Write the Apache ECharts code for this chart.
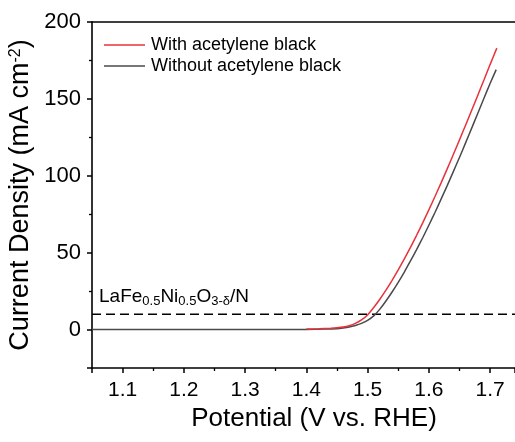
<!DOCTYPE html>
<html><head><meta charset="utf-8">
<script src="https://cdn.jsdelivr.net/npm/echarts@6/dist/echarts.min.js"></script>
<style>html,body{margin:0;padding:0;background:#fff}#c{width:515px;height:442px}</style>
</head><body><div id="c"></div>
<script>
const seriesNames = ['With acetylene black', 'Without acetylene black'];
const potRed = [1.40,1.42,1.44,1.45,1.46,1.47,1.48,1.49,1.50,1.51,1.52,1.53,1.54,1.55,1.56,1.57,1.58,1.59,1.60,1.61,1.62,1.63,1.64,1.65,1.66,1.67,1.68,1.69,1.70,1.711];
const jRed = [0.3,0.5,0.8,1.1,1.6,2.5,4.0,6.3,9.5,14.3,19.7,25.6,32.0,38.8,46.0,53.5,61.3,69.4,77.8,86.5,95.4,104.5,113.8,123.3,132.9,142.6,152.4,162.3,172.3,183.0];
const potGray = [1.05,1.10,1.15,1.20,1.25,1.30,1.35,1.40,1.43,1.45,1.46,1.47,1.48,1.49,1.50,1.51,1.52,1.53,1.54,1.55,1.56,1.57,1.58,1.59,1.60,1.61,1.62,1.63,1.64,1.65,1.66,1.67,1.68,1.69,1.70,1.71];
const jGray = [0,0,0,0,0,0,0,0.1,0.3,0.6,1.0,1.6,2.6,4.0,6.0,8.9,13.3,18.6,24.4,30.7,37.4,44.6,52.0,59.7,67.8,76.1,84.8,93.6,102.7,111.9,121.4,131.0,140.7,150.4,160.0,169.0];
const threshold = 10;
const xRange = [1.05, 1.7407];
const yRange = [-25, 200];
const xStep = 0.1, yStep = 50;
const xTitle = 'Potential (V vs. RHE)';
const yTitle = 'Current Density (mA cm{sup|-2})';
const annot = 'LaFe{sub|0.5}Ni{sub|0.5}O{sub|3-δ}/N';

const FONT = '"Liberation Sans", Arial, sans-serif';
const zip = (a, b) => a.map((v, i) => [v, b[i]]);

const chart = echarts.init(document.getElementById('c'), null, {renderer: 'canvas'});
chart.setOption({
  animation: false,
  backgroundColor: '#fff',
  grid: {left: 92, right: 0, top: 22, bottom: 74},
  legend: {
    orient: 'vertical', left: 99, top: 31, itemGap: 3,
    itemWidth: 41, itemHeight: 1.6, icon: 'rect',
    textStyle: {fontFamily: FONT, fontSize: 18, color: '#000', padding: [0,0,0,1]},
    data: seriesNames
  },
  xAxis: [{
    type: 'value', min: xRange[0], max: xRange[1], minInterval: xStep, maxInterval: xStep,
    axisLine: {onZero: false, lineStyle: {color: '#000', width: 1.6}},
    axisTick: {length: 5, lineStyle: {width: 1.5, color: '#000'}},
    minorTick: {show: true, splitNumber: 2, length: 3, lineStyle: {width: 1.3, color: '#000'}},
    splitLine: {show: false},
    axisLabel: {showMinLabel: false, showMaxLabel: false, margin: 12, fontFamily: FONT, fontSize: 21, color: '#000',
      formatter: v => v.toFixed(1)}
  }, {
    type: 'value', position: 'top', min: xRange[0], max: xRange[1],
    axisLine: {onZero: false, lineStyle: {color: '#000', width: 1.6}},
    axisTick: {show: false}, axisLabel: {show: false}, splitLine: {show: false}
  }],
  yAxis: {
    type: 'value', min: yRange[0], max: yRange[1], minInterval: yStep, maxInterval: yStep,
    axisLine: {onZero: false, lineStyle: {color: '#000', width: 1.6}},
    axisTick: {length: 5, lineStyle: {width: 1.5, color: '#000'}},
    minorTick: {show: true, splitNumber: 2, length: 3, lineStyle: {width: 1.3, color: '#000'}},
    splitLine: {show: false},
    axisLabel: {showMinLabel: false, margin: 11, fontFamily: FONT, fontSize: 22, color: '#000'}
  },
  graphic: [
    {type: 'text', x: 314, y: 419, style: {text: xTitle, font: '26px ' + FONT, fill: '#000', align: 'center', verticalAlign: 'middle'}},
    {type: 'text', x: 21, y: 195, rotation: Math.PI / 2, style: {text: yTitle, fontFamily: FONT, fontSize: 27, fill: '#000', align: 'center', verticalAlign: 'middle',
      rich: {sup: {fontFamily: FONT, fontSize: 16, verticalAlign: 'top', padding: [0,0,11,0]}}}},
    {type: 'text', x: 99, y: 297, style: {text: annot, fontFamily: FONT, fontSize: 19, fill: '#000', align: 'left', verticalAlign: 'middle',
      rich: {sub: {fontFamily: FONT, fontSize: 13, padding: [9,0,0,0]}}}}
  ],
  series: [
    {name: 'threshold', type: 'line', data: [[xRange[0], threshold], [xRange[1], threshold]], symbol: 'none', silent: true,
      lineStyle: {color: '#000', width: 1.6, type: [9, 5]}, z: 1},
    {name: seriesNames[1], type: 'line', data: zip(potGray, jGray), symbol: 'none', smooth: 0.2,
      lineStyle: {color: '#4a4a4a', width: 1.5}, itemStyle: {color: '#4a4a4a'}, z: 2},
    {name: seriesNames[0], type: 'line', data: zip(potRed, jRed), symbol: 'none', smooth: 0.2,
      lineStyle: {color: '#e8323a', width: 1.5}, itemStyle: {color: '#e8323a'}, z: 3}
  ]
});
</script></body></html>
